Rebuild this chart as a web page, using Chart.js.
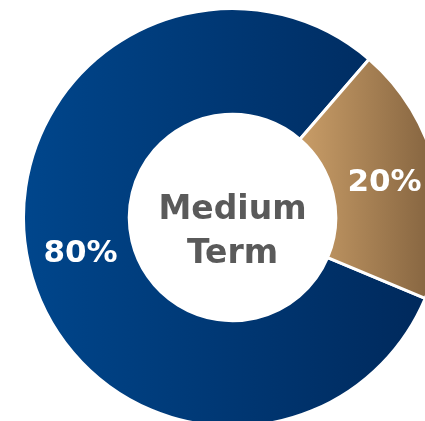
<!DOCTYPE html>
<html>
<head>
<meta charset="utf-8">
<script src="https://cdn.jsdelivr.net/npm/chart.js@4/dist/chart.umd.min.js"></script>
<style>
  html, body { margin: 0; padding: 0; width: 425px; height: 421px; overflow: hidden; background: #ffffff; }
  #wrap { position: absolute; left: 22px; top: 7px; width: 421px; height: 421px; }
  canvas { display: block; }
</style>
</head>
<body>
<div id="wrap"><canvas id="c" width="421" height="421"></canvas></div>
<script>
// ---- data ----
const categories = ['Primary', 'Secondary'];
const values = [80, 20];
const centerLines = ['Medium', 'Term'];

// ---- styles ----
const gradientStops = [
  ['#00468c', '#00285a'],
  ['#cb9f69', '#80603d']
];

function makeFill(context) {
  const chart = context.chart;
  const area = chart.chartArea;
  const i = context.dataIndex;
  if (!area) return gradientStops[i][0];
  const cx = (area.left + area.right) / 2;
  const r = Math.min(area.right - area.left, area.bottom - area.top) / 2;
  let x0, x1;
  if (i === 0) { x0 = cx - r; x1 = cx + r; }
  else { x0 = cx + r * 0.3; x1 = cx + r; }
  const g = chart.ctx.createLinearGradient(x0, 0, x1, 0);
  g.addColorStop(0, gradientStops[i][0]);
  g.addColorStop(1, gradientStops[i][1]);
  return g;
}

const labelPlugin = {
  id: 'labelPlugin',
  afterDatasetsDraw(chart) {
    const ctx = chart.ctx;
    const meta = chart.getDatasetMeta(0);
    ctx.save();
    ctx.fillStyle = '#ffffff';
    ctx.font = 'bold 31px "DejaVu Sans"';
    ctx.textAlign = 'center';
    ctx.textBaseline = 'middle';
    meta.data.forEach((arc, i) => {
      const p = arc.tooltipPosition();
      ctx.fillText(values[i] + '%', p.x, p.y + 1);
    });
    const c = meta.data[0];
    ctx.fillStyle = '#5a5a5a';
    ctx.font = 'bold 33px "DejaVu Sans"';
    ctx.textBaseline = 'alphabetic';
    ctx.fillText(centerLines[0], c.x, c.y + 1);
    ctx.fillText(centerLines[1], c.x, c.y + 45);
    ctx.restore();
  }
};

new Chart(document.getElementById('c'), {
  type: 'doughnut',
  data: {
    labels: categories,
    datasets: [{
      data: values,
      backgroundColor: makeFill,
      borderColor: '#ffffff',
      borderWidth: 3,
      hoverOffset: 0,
      hoverBorderWidth: 3
    }]
  },
  options: {
    responsive: false,
    animation: false,
    rotation: 112.8,
    cutout: '49.4%',
    layout: { padding: 0 },
    plugins: { legend: { display: false }, tooltip: { enabled: false } }
  },
  plugins: [labelPlugin]
});
</script>
</body>
</html>
